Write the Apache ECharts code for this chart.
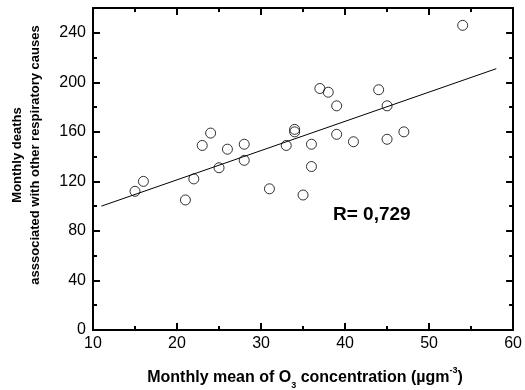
<!DOCTYPE html>
<html>
<head>
<meta charset="utf-8">
<script src="https://cdn.jsdelivr.net/npm/echarts@6/dist/echarts.min.js"></script>
<style>
  html, body { margin: 0; padding: 0; background: #fff; }
  #main { width: 525px; height: 390px; }
</style>
</head>
<body>
<div id="main"></div>
<script>
// monthly O3 mean (x) vs monthly deaths (y)
var o3 = [15, 16, 21, 22, 23, 24, 25, 26, 28, 28, 31, 33, 34, 34, 35, 36, 36, 37, 38, 39, 39, 41, 44, 45, 45, 47, 54];
var deaths = [112, 120, 105, 122, 149, 159, 131, 146, 150, 137, 114, 149, 162, 160, 109, 150, 132, 195, 192, 181, 158, 152, 194, 181, 154, 160, 246];
// ends of the fitted line
var fitX = [11, 58];
var fitY = [100, 211];
var rText = 'R= 0,729';

var FONT = "'Liberation Sans', Arial, sans-serif";

var points = [];
for (var i = 0; i < o3.length; i++) {
    points.push([o3[i], deaths[i]]);
}
var fitLine = [];
for (var j = 0; j < fitX.length; j++) {
    fitLine.push([fitX[j], fitY[j]]);
}

function axisBase(labels) {
    return {
        axisLine: { show: true, onZero: false, lineStyle: { color: '#000', width: 2 } },
        axisTick: { show: true, inside: true, length: 7, lineStyle: { color: '#000', width: 2 } },
        minorTick: { show: true, splitNumber: 2, length: 4, lineStyle: { color: '#000', width: 2 } },
        splitLine: { show: false },
        axisLabel: { show: labels, color: '#000', fontFamily: FONT, fontSize: 16 }
    };
}

var xBottom = axisBase(true);
xBottom.type = 'value'; xBottom.min = 10; xBottom.max = 60; xBottom.interval = 10;
xBottom.position = 'bottom';
xBottom.axisLabel.margin = 6;

var xTop = axisBase(false);
xTop.type = 'value'; xTop.min = 10; xTop.max = 60; xTop.interval = 10;
xTop.position = 'top';

var yLeft = axisBase(true);
yLeft.type = 'value'; yLeft.min = 0; yLeft.max = 260; yLeft.interval = 40;
yLeft.position = 'left';
yLeft.axisLabel.margin = 7;
// 260 is only the frame top, no label there
yLeft.axisLabel.showMaxLabel = false;

var yRight = axisBase(false);
yRight.type = 'value'; yRight.min = 0; yRight.max = 260; yRight.interval = 40;
yRight.position = 'right';

var myChart = echarts.init(document.getElementById('main'));

var option = {
    animation: false,
    backgroundColor: '#fff',
    grid: { left: 93, top: 8, right: 8, bottom: 60, containLabel: false },
    xAxis: [xBottom, xTop],
    yAxis: [yLeft, yRight],
    series: [{
        type: 'line',
        data: fitLine,
        xAxisIndex: 0,
        yAxisIndex: 0,
        symbol: 'none',
        lineStyle: { color: '#000', width: 1 },
        z: 2
    }, {
        type: 'scatter',
        data: points,
        xAxisIndex: 0,
        yAxisIndex: 0,
        symbol: 'circle',
        symbolSize: 10,
        itemStyle: { color: 'rgba(0,0,0,0)', borderColor: '#000', borderWidth: 1 },
        z: 3
    }],
    graphic: [{
        // y axis title, two lines
        type: 'text',
        x: 26,
        y: 155,
        rotation: Math.PI / 2,
        style: {
            text: 'Monthly deaths\nasssociated with other respiratory causes',
            font: 'bold 13px ' + FONT,
            lineHeight: 18,
            textAlign: 'center',
            textVerticalAlign: 'middle',
            fill: '#000'
        }
    }, {
        // x axis title with sub / superscript
        type: 'text',
        x: 305,
        y: 378,
        style: {
            text: '{n|Monthly mean of O}{s|3}{n| concentration (µgm}{p|-3}{n|)}',
            textAlign: 'center',
            textVerticalAlign: 'middle',
            fill: '#000',
            rich: {
                n: { fontFamily: FONT, fontWeight: 'bold', fontSize: 16, lineHeight: 24, color: '#000' },
                s: { fontFamily: FONT, fontWeight: 'bold', fontSize: 9, lineHeight: 9, verticalAlign: 'bottom', color: '#000' },
                p: { fontFamily: FONT, fontWeight: 'bold', fontSize: 9, lineHeight: 9, verticalAlign: 'top', color: '#000' }
            }
        }
    }, {
        type: 'text',
        x: 333,
        y: 215,
        style: {
            text: rText,
            font: 'bold 19px ' + FONT,
            textAlign: 'left',
            textVerticalAlign: 'middle',
            fill: '#000'
        }
    }]
};

myChart.setOption(option);
</script>
</body>
</html>
